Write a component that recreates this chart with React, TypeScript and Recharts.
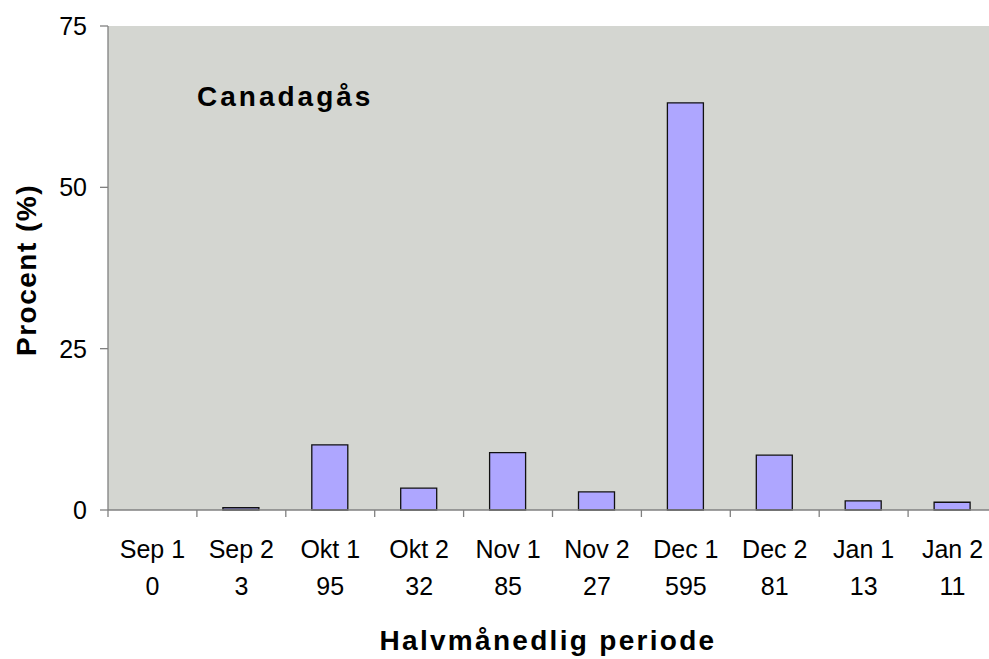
import React from 'react';
import { BarChart, Bar, XAxis, YAxis, CartesianGrid } from 'recharts';

// half-month periods, number of birds, share in percent
const periods = ['Sep 1', 'Sep 2', 'Okt 1', 'Okt 2', 'Nov 1', 'Nov 2', 'Dec 1', 'Dec 2', 'Jan 1', 'Jan 2'];
const counts = [0, 3, 95, 32, 85, 27, 595, 81, 13, 11];
const percent = [0, 0.35, 10.1, 3.4, 8.9, 2.8, 63.1, 8.5, 1.4, 1.2];
const yTicks = [0, 25, 50, 75];

const chartData = periods.map((p, i) => ({ period: p, n: counts[i], value: percent[i] }));

const FONT = '"Liberation Sans", Arial, Helvetica, sans-serif';
const AXIS = '#808080';

const PeriodTick = (props: any) => {
  const { x, y, payload, index } = props;
  const half = payload && payload.offset ? payload.offset : 44.4;
  return (
    <g>
      <line x1={x - half} y1={y} x2={x - half} y2={y + 7} stroke={AXIS} strokeWidth={1.3} />
      <text x={x} y={y + 48} textAnchor="middle" fontSize={25} fontFamily={FONT} fill="#000">
        {payload.value}
      </text>
      <text x={x} y={y + 85} textAnchor="middle" fontSize={25} fontFamily={FONT} fill="#000">
        {chartData[index] ? chartData[index].n : ''}
      </text>
    </g>
  );
};

const App: React.FC = () => {
  return (
    <div style={{ position: 'fixed', left: 0, top: 0, width: 989, height: 659, overflow: 'hidden', background: '#fff' }}>
      <BarChart
        width={1010}
        height={659}
        data={chartData}
        margin={{ top: 26, right: 13, left: 48, bottom: 29 }}
      >
        <CartesianGrid fill="#d4d6d1" stroke="none" horizontal={false} vertical={false} />
        <XAxis
          dataKey="period"
          height={120}
          tickLine={false}
          tickSize={0}
          tickMargin={0}
          axisLine={{ stroke: AXIS, strokeWidth: 1.3 }}
          tick={<PeriodTick />}
          interval={0}
        />
        <YAxis
          width={60}
          domain={[0, 75]}
          ticks={yTicks}
          tickSize={8}
          tickMargin={13}
          axisLine={{ stroke: AXIS, strokeWidth: 1.3 }}
          tickLine={{ stroke: AXIS, strokeWidth: 1.3 }}
          tick={{ fontSize: 25, fontFamily: FONT, fill: '#000' }}
        />
        <Bar dataKey="value" barSize={36} fill="#aea6ff" stroke="#111" strokeWidth={1.3} isAnimationActive={false} />
        <text x={197} y={106} fontSize={28} fontWeight="bold" fontFamily={FONT} letterSpacing={3} fill="#000">
          Canadagås
        </text>
        <text x={548} y={650} textAnchor="middle" fontSize={28} fontWeight="bold" fontFamily={FONT} letterSpacing={2.3} fill="#000">
          Halvmånedlig periode
        </text>
        <text
          x={36}
          y={270}
          textAnchor="middle"
          fontSize={28}
          fontWeight="bold"
          fontFamily={FONT}
          letterSpacing={1.5}
          fill="#000"
          transform="rotate(-90 36 270)"
        >
          Procent (%)
        </text>
      </BarChart>
    </div>
  );
};

export default App;
